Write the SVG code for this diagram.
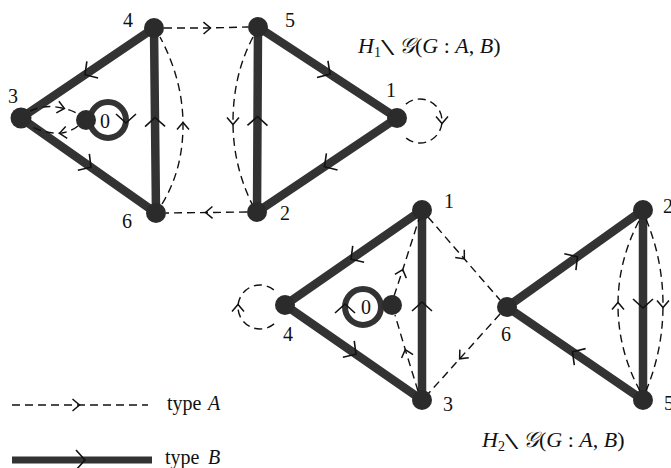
<svg xmlns="http://www.w3.org/2000/svg" width="671" height="468" viewBox="0 0 671 468">
<style>
.thick{fill:none;stroke:#333;stroke-width:8.5;stroke-linecap:round;marker-mid:url(#chevB)}
.dash{fill:none;stroke:#111;stroke-width:1.4;stroke-dasharray:8 5;marker-mid:url(#chevA)}
.ring{fill:none;stroke:#333;stroke-width:6;marker-mid:url(#chevB)}
.node{fill:#2b2b2b}
.lbl{font-family:"Liberation Serif","Times New Roman",serif;font-size:20px;fill:#111}
.ttl{font-family:"Liberation Serif","Times New Roman",serif;font-size:22px;fill:#111}
</style>
<defs>
<marker id="chevA" markerUnits="userSpaceOnUse" viewBox="-10 -10 20 20" markerWidth="20" markerHeight="20" refX="0" refY="0" orient="auto">
<path d="M-4.5 -6 L2.5 0 L-4.5 6" fill="none" stroke="#111" stroke-width="1.5"/>
</marker>
<marker id="chevB" markerUnits="userSpaceOnUse" viewBox="-12 -12 24 24" markerWidth="24" markerHeight="24" refX="0" refY="0" orient="auto">
<path d="M-6 -10 L3 0 L-6 10" fill="none" stroke="#111" stroke-width="1.6"/>
</marker>
</defs>
<g id="connectors">
<!-- top graph -->
<path class="thick" d="M154 28 L87.5 73 L21 118"/>
<path class="thick" d="M21 118 L88.5 165.5 L156 213"/>
<path class="thick" d="M156 213 L155 120.5 L154 28"/>
<path class="thick" d="M258 27 L327.5 72.5 L397 118"/>
<path class="thick" d="M397 118 L327 165 L257 212"/>
<path class="thick" d="M257 212 L257.5 119.5 L258 27"/>
<path class="dash" d="M164 28 L208 28 L248 27"/>
<path class="dash" d="M247 212 L208 212.5 L166 213"/>
<path class="dash" d="M162 204 Q183 170 183 125 Q183 80 160 37"/>
<path class="dash" d="M253 37 Q233 75 233 122 Q233 165 252 204"/>
<path class="dash" d="M405.9 104.1 A22 22 0 0 1 442 121 A22 22 0 0 1 405.9 137.9"/>
<path class="dash" d="M30 111 Q45 104 62 108 Q72 110 78 114"/>
<path class="dash" d="M78 126 Q72 131 62 133 Q45 134 30 126"/>
<path class="ring" d="M90 120 A18 18 0 0 1 126 120 A18 18 0 0 1 90 120"/>
<!-- bottom graph -->
<path class="thick" d="M422 210 L353.5 257.5 L285 305"/>
<path class="thick" d="M285 305 L353.5 352.5 L422 400"/>
<path class="thick" d="M422 400 L422 305 L422 210"/>
<path class="thick" d="M507 307 L575 258.5 L643 210"/>
<path class="thick" d="M643 400 L575 353.5 L507 307"/>
<path class="thick" d="M643 210 L643 305 L643 400"/>
<path class="dash" d="M394 296 L402 272 L419 219"/>
<path class="dash" d="M418 391 L406 352 L395 315"/>
<path class="dash" d="M428 217 L462.7 257 L500 300"/>
<path class="dash" d="M500 314 L461.3 357 L428 394"/>
<path class="dash" d="M640 391 Q618 350 618 305 Q618 260 640 219"/>
<path class="dash" d="M646 219 Q663 260 663 305 Q663 350 646 391"/>
<path class="dash" d="M274.1 323.9 A22 22 0 0 1 238 307 A22 22 0 0 1 274.1 290.1"/>
<path class="ring" d="M381 307 A18 18 0 0 1 345 307 A18 18 0 0 1 381 307"/>
<!-- legend -->
<path class="dash" d="M12 405 L77 405 L148 405"/>
<path d="M12 460 L82 460 L152 460" fill="none" stroke="#333" stroke-width="7" marker-mid="url(#chevB)"/>
</g>
<g id="n-top-4"><circle class="node" cx="154" cy="28" r="10"/><text class="lbl" x="123" y="27">4</text></g>
<g id="n-top-3"><circle class="node" cx="21" cy="118" r="10.5"/><text class="lbl" x="8" y="103">3</text></g>
<g id="n-top-6"><circle class="node" cx="156" cy="213" r="10"/><text class="lbl" x="122" y="228">6</text></g>
<g id="n-top-0"><circle class="node" cx="86" cy="120" r="10"/><text class="lbl" x="100" y="128">0</text></g>
<g id="n-top-5"><circle class="node" cx="258" cy="27" r="10"/><text class="lbl" x="285" y="27">5</text></g>
<g id="n-top-1"><circle class="node" cx="397" cy="118" r="10"/><text class="lbl" x="386" y="97">1</text></g>
<g id="n-top-2"><circle class="node" cx="257" cy="212" r="10"/><text class="lbl" x="280" y="220">2</text></g>
<g id="n-bot-1"><circle class="node" cx="422" cy="210" r="10"/><text class="lbl" x="444" y="208">1</text></g>
<g id="n-bot-4"><circle class="node" cx="285" cy="305" r="10"/><text class="lbl" x="283" y="341">4</text></g>
<g id="n-bot-3"><circle class="node" cx="422" cy="400" r="10"/><text class="lbl" x="443" y="411">3</text></g>
<g id="n-bot-0"><circle class="node" cx="392" cy="305" r="10"/><text class="lbl" x="361" y="314">0</text></g>
<g id="n-bot-6"><circle class="node" cx="507" cy="307" r="10"/><text class="lbl" x="501" y="341">6</text></g>
<g id="n-bot-2"><circle class="node" cx="643" cy="210" r="10"/><text class="lbl" x="663" y="213">2</text></g>
<g id="n-bot-5"><circle class="node" cx="643" cy="400" r="10"/><text class="lbl" x="664" y="410">5</text></g>
<g id="title-1" class="ttl">
<text x="358" y="53"><tspan font-style="italic">H</tspan><tspan font-size="14" dy="4">1</tspan></text>
<text transform="translate(381,55) scale(2,1)" font-size="24">\</text>
<text x="399" y="53"><tspan font-style="italic">𝒢</tspan><tspan>(</tspan><tspan font-style="italic">G</tspan><tspan> : </tspan><tspan font-style="italic">A</tspan><tspan>, </tspan><tspan font-style="italic">B</tspan><tspan>)</tspan></text>
</g>
<g id="title-2" class="ttl">
<text x="482" y="447"><tspan font-style="italic">H</tspan><tspan font-size="14" dy="4">2</tspan></text>
<text transform="translate(505,449) scale(2,1)" font-size="24">\</text>
<text x="523" y="447"><tspan font-style="italic">𝒢</tspan><tspan>(</tspan><tspan font-style="italic">G</tspan><tspan> : </tspan><tspan font-style="italic">A</tspan><tspan>, </tspan><tspan font-style="italic">B</tspan><tspan>)</tspan></text>
</g>
<g id="legend" class="lbl">
<text x="167" y="410">type</text><text x="208" y="410" font-style="italic">A</text>
<text x="165" y="464">type</text><text x="208" y="464" font-style="italic">B</text>
</g>
</svg>
